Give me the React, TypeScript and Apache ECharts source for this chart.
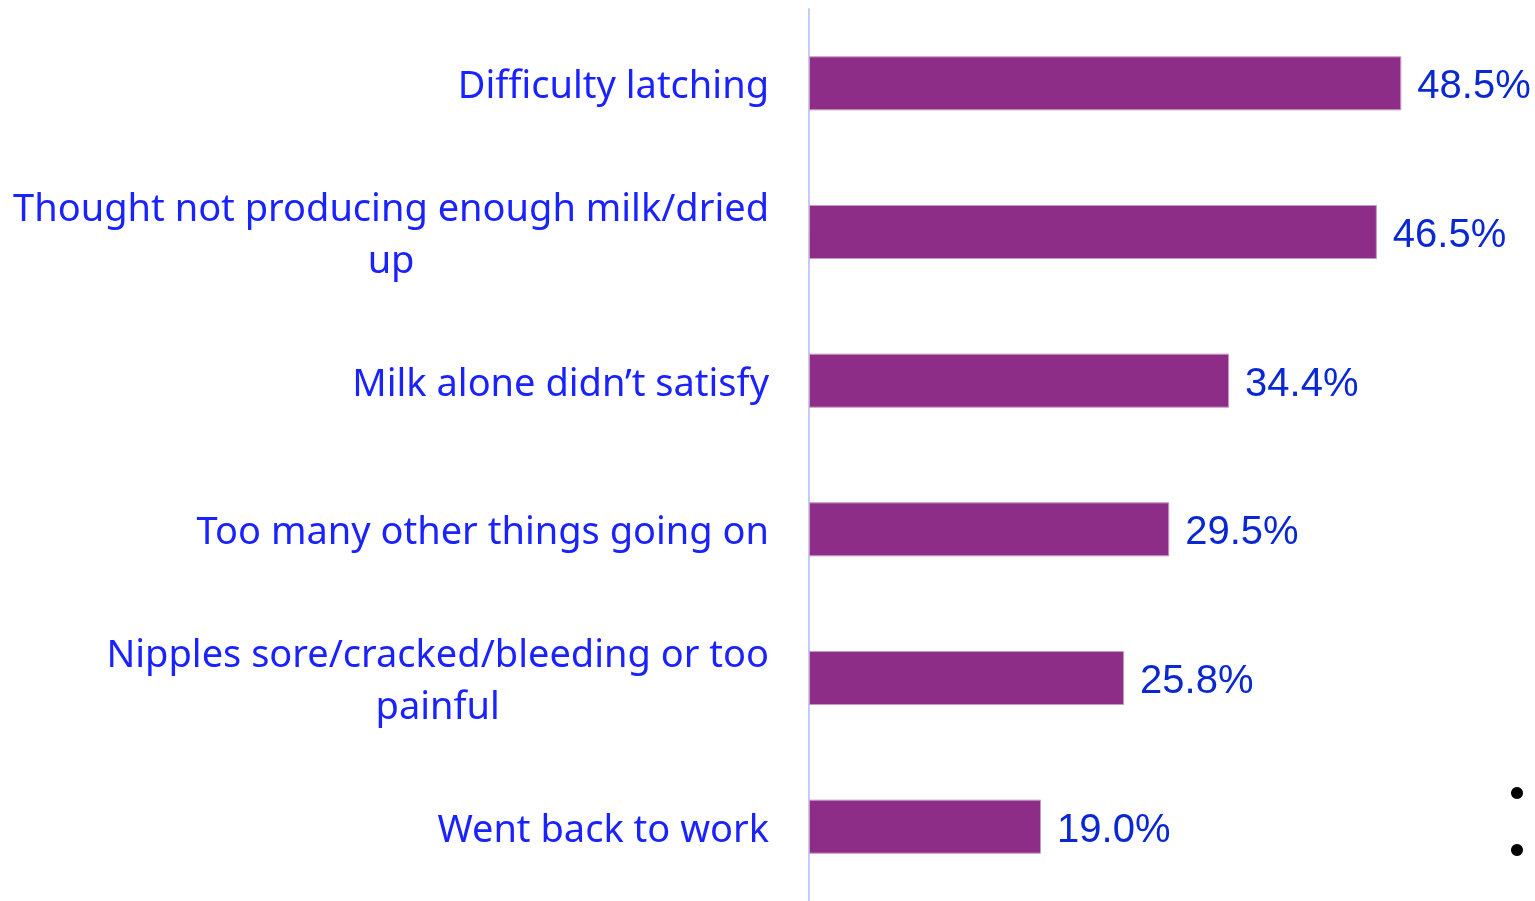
import React, { useEffect, useRef } from "react";
import * as echarts from "echarts";

const categories: string[] = [
  "Difficulty latching",
  "Thought not producing enough milk/dried\nup",
  "Milk alone didn\u2019t satisfy",
  "Too many other things going on",
  "Nipples sore/cracked/bleeding or too\npainful",
  "Went back to work",
];
const values: number[] = [48.5, 46.5, 34.4, 29.5, 25.8, 19.0];
const bullets: number[] = [0, 1];

export default function App() {
  const ref = useRef<HTMLDivElement>(null);
  useEffect(() => {
    if (!ref.current) return;
    const chart = echarts.init(ref.current, null, { renderer: "svg" });
    chart.setOption({
      animation: false,
      grid: { left: 809, top: 9, width: 610.6, height: 894 },
      xAxis: { type: "value", min: 0, max: 50, show: false },
      yAxis: {
        type: "category",
        data: categories,
        inverse: true,
        axisLine: { show: true, lineStyle: { color: "#c3cbfc", width: 2 } },
        axisTick: { show: false },
        splitLine: { show: false },
        axisLabel: {
          margin: 40,
          align: "right",
          formatter: (v: string) =>
            v
              .split("\n")
              .map((l) => "{c|" + l + "}")
              .join("\n"),
          rich: {
            c: {
              align: "center",
              fontFamily: "Noto Sans",
              fontSize: 38,
              lineHeight: 52,
              color: "#1a22ff",
            },
          },
        },
      },
      series: [
        {
          type: "bar",
          data: values,
          barWidth: 54,
          itemStyle: { color: "#8e2d87", borderColor: "#c79ac3", borderWidth: 1 },
          label: {
            show: true,
            position: "right",
            distance: 16,
            offset: [0, 1],
            formatter: (p: any) => p.value.toFixed(1) + "%",
            fontFamily: "Liberation Sans",
            fontSize: 40,
            color: "#0a28d2",
          },
        },
      ],
      graphic: bullets.map((b) => ({
        type: "circle",
        shape: { cx: 1517, cy: 793 + b * 57, r: 6 },
        style: { fill: "#000" },
      })),
    });
    return () => chart.dispose();
  }, []);
  return (
    <div
      ref={ref}
      style={{ position: "fixed", left: 0, top: 0, width: 1535, height: 901 }}
    />
  );
}
